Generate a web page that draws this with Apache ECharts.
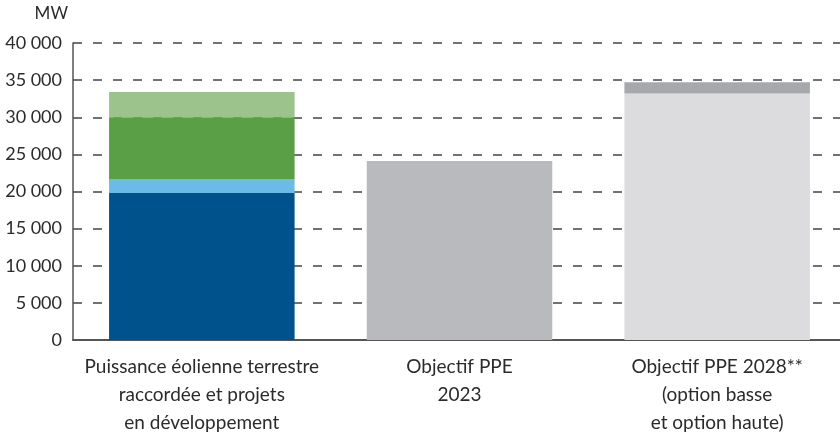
<!DOCTYPE html>
<html>
<head>
<meta charset="utf-8">
<script src="https://cdn.jsdelivr.net/npm/echarts@6/dist/echarts.min.js"></script>
<style>
  html, body { margin: 0; padding: 0; background: #fff; }
  #chart { width: 840px; height: 437px; }
</style>
</head>
<body>
<div id="chart"></div>
<script>
// Catégories de l'axe horizontal
const categories = [
    "Puissance éolienne terrestre\nraccordée et projets\nen développement",
    "Objectif PPE\n2023",
    "Objectif PPE 2028**\n(option basse\net option haute)"
];

// Graduations de l'axe vertical (MW)
const yTicks = [0, 5000, 10000, 15000, 20000, 25000, 30000, 35000, 40000];

// Valeurs (MW), empilées par barre
const raccordee      = [19800, "-", "-"];
const enDeveloppA    = [1800, "-", "-"];
const enDeveloppB    = [8400, "-", "-"];
const enDeveloppC    = [3400, "-", "-"];
const objectif2023   = ["-", 24100, "-"];
const optionBasse    = ["-", "-", 33200];
const ecartHaute     = ["-", "-", 1500];

const font = "Lato";

function formatMW(v)
{
    // Séparateur de milliers : espace
    return String(v).replace(/\B(?=(\d{3})+(?!\d))/g, " ");
}

function stackSerie(name, data, color)
{
    return {
        name,
        type: "bar",
        stack: "total",
        data,
        barWidth: "72%",
        itemStyle: { color },
        emphasis: { disabled: true }
    };
}

const chart = echarts.init(document.getElementById("chart"));

chart.setOption({
    animation: false,
    grid: {
        left: 73, right: -6, top: 43, bottom: 97,
        containLabel: false,
        outerBoundsMode: "none"
    },
    xAxis: {
        type: "category",
        data: categories,
        axisLine: { lineStyle: { color: "#555", width: 2 } },
        axisTick: { show: false },
        axisLabel: {
            color: "#2b2b2b",
            fontFamily: font,
            fontSize: 19,
            lineHeight: 28,
            margin: 13,
            interval: 0
        }
    },
    yAxis: {
        type: "value",
        min: yTicks[0],
        max: yTicks[yTicks.length - 1],
        interval: yTicks[1] - yTicks[0],
        name: "MW",
        nameLocation: "end",
        nameGap: 21,
        nameTextStyle: {
            color: "#2b2b2b",
            fontFamily: font,
            fontSize: 17,
            align: "right",
            padding: [0, 5, 0, 0]
        },
        axisLine: { show: true, lineStyle: { color: "#555", width: 1.5 } },
        axisTick: { show: false },
        axisLabel: {
            color: "#2b2b2b",
            fontFamily: font,
            fontSize: 18,
            margin: 11,
            formatter: formatMW
        },
        splitLine: {
            lineStyle: { color: "#444", width: 1.5, type: [9, 11] }
        }
    },
    series: [
        stackSerie("Raccordée", raccordee, "#00528c"),
        stackSerie("Projets A", enDeveloppA, "#6bbbe6"),
        stackSerie("Projets B", enDeveloppB, "#5a9e46"),
        stackSerie("Projets C", enDeveloppC, "#9dc38d"),
        stackSerie("PPE 2023", objectif2023, "#b9babd"),
        stackSerie("Option basse", optionBasse, "#dcdcde"),
        stackSerie("Option haute", ecartHaute, "#a7a8ab")
    ]
});
</script>
</body>
</html>
